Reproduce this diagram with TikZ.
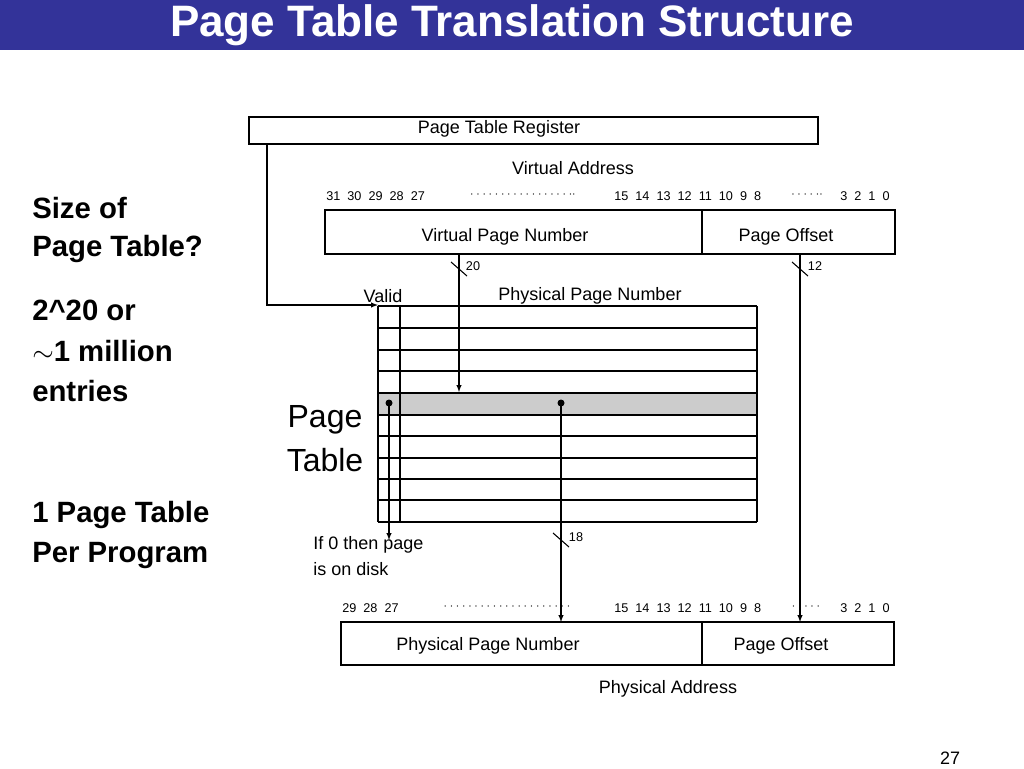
\documentclass[tikz,border=0pt]{standalone}
\usepackage{fontspec}
\setmainfont{Liberation Sans}
\begin{document}
\begin{tikzpicture}[x=0.75pt,y=-0.75pt,
  lbl/.style={inner sep=0pt,font=\fontsize{13.5}{15}\selectfont},
  bits/.style={inner sep=0pt,font=\fontsize{9.5}{11}\selectfont},
  big/.style={inner sep=0pt,anchor=west,font=\fontsize{22}{26}\selectfont\bfseries},
  box/.style={draw,thick},
  arr/.style={-latex,thick}]
\useasboundingbox (0,0) rectangle (1024,768);
\fill[fill={rgb,255:red,51;green,51;blue,153}] (0,0) rectangle (1024,50);
\node[inner sep=0pt,text=white,font=\fontsize{33}{36}\selectfont\bfseries] (title) at (512,25) {Page Table Translation Structure};
% PTR
\draw[box] (249,117) rectangle (818,144);
\node[lbl] (ptr) at (499,129) {Page Table Register};
\coordinate (ptrA) at (267,144);
\coordinate (ptT) at (378,305);
\draw[arr] (ptrA) |- (ptT);
% VA
\node[lbl] (va) at (573,168) {Virtual Address};
\node[bits,anchor=west] (b1) at (326,196) {31\ \ 30\ \ 29\ \ 28\ \ 27};
\node[bits] (d1) at (523,195) {$\cdot\cdot\cdot\cdot\cdot\cdot\cdot\cdot\cdot\cdot\cdot\cdot\cdot\cdot\cdot\cdot\cdot\cdot$};
\node[bits,anchor=west] (b2) at (614,196) {15\ \ 14\ \ 13\ \ 12\ \ 11\ \ 10\ \ 9\ \ 8};
\node[bits] (d2) at (807,195) {$\cdot\cdot\cdot\cdot\cdot\cdot$};
\node[bits,anchor=west] (b3) at (840,196) {3\ \ 2\ \ 1\ \ 0};
\draw[box] (325,210) rectangle (895,254);
\draw[thick] (702,210) -- (702,254);
\node[lbl] (vpn) at (505,237) {Virtual Page Number};
\node[lbl] (vpo) at (786,237) {Page Offset};
\coordinate (v1) at (459,254); \coordinate (v1e) at (459,392);
\coordinate (v2) at (800,254); \coordinate (v2e) at (800,622);
\draw[arr] (v1) -- (v1e);
\draw[arr] (v2) -- (v2e);
\draw[thick] (451,262) -- (467,276);
\draw[thick] (792,262) -- (808,276);
\node[bits] (n20) at (473,266) {20};
\node[bits] (n12) at (815,266) {12};
% page table
\node[lbl] (valid) at (383,296) {Valid};
\node[lbl] (ppnh) at (590,296) {Physical Page Number};
\fill[gray!40] (378,393) rectangle (757,415);
\foreach \y in {306,328,350,371,393,415,436,458,479,500,522}
  \draw[thick] (378,\y) -- (757,\y);
\draw[thick] (378,306) -- (378,522) (400,306) -- (400,522) (757,306) -- (757,522);
\node[inner sep=0pt,font=\fontsize{24}{28}\selectfont] (pt1) at (325,420) {Page};
\node[inner sep=0pt,font=\fontsize{24}{28}\selectfont] (pt2) at (325,460) {Table};
\fill (389,403) circle (3.5) coordinate (c1);
\fill (561,403) circle (3.5) coordinate (c2);
\coordinate (c1e) at (389,540); \coordinate (c2e) at (561,622);
\draw[arr] (c1) -- (c1e);
\draw[arr] (c2) -- (c2e);
\draw[thick] (553,533) -- (569,547);
\node[bits] (n18) at (576,537) {18};
\node[lbl,anchor=west] (if0) at (313,545) {If 0 then page};
\node[lbl,anchor=west] (disk) at (313,569) {is on disk};
% PA
\node[bits,anchor=west] (p1) at (342,608) {29\ \ 28\ \ 27};
\node[bits] (pd1) at (507,607) {$\cdot\cdot\cdot\cdot\cdot\cdot\cdot\cdot\cdot\cdot\cdot\cdot\cdot\cdot\cdot\cdot\cdot\cdot\cdot\cdot\cdot$};
\node[bits,anchor=west] (p2) at (614,608) {15\ \ 14\ \ 13\ \ 12\ \ 11\ \ 10\ \ 9\ \ 8};
\node[bits] (pd2) at (806,607) {$\cdot\cdot\cdot\cdot\cdot$};
\node[bits,anchor=west] (p3) at (840,608) {3\ \ 2\ \ 1\ \ 0};
\draw[box] (341,622) rectangle (894,665);
\draw[thick] (702,622) -- (702,665);
\node[lbl] (ppn) at (488,646) {Physical Page Number};
\node[lbl] (ppo) at (781,646) {Page Offset};
\node[lbl] (pa) at (668,689) {Physical Address};
% left
\node[big] (l1) at (32,208) {Size of};
\node[big] (l2) at (32,249) {Page Table?};
\node[big] (l3) at (32,310) {2\^{}20 or};
\node[big] (l4) at (32,351) {$\sim$1 million};
\node[big] (l5) at (32,391) {entries};
\node[big] (l6) at (32,515) {1 Page Table};
\node[big] (l7) at (32,556) {Per Program};
\node[lbl] (num) at (950,758) {27};
\end{tikzpicture}
\end{document}
